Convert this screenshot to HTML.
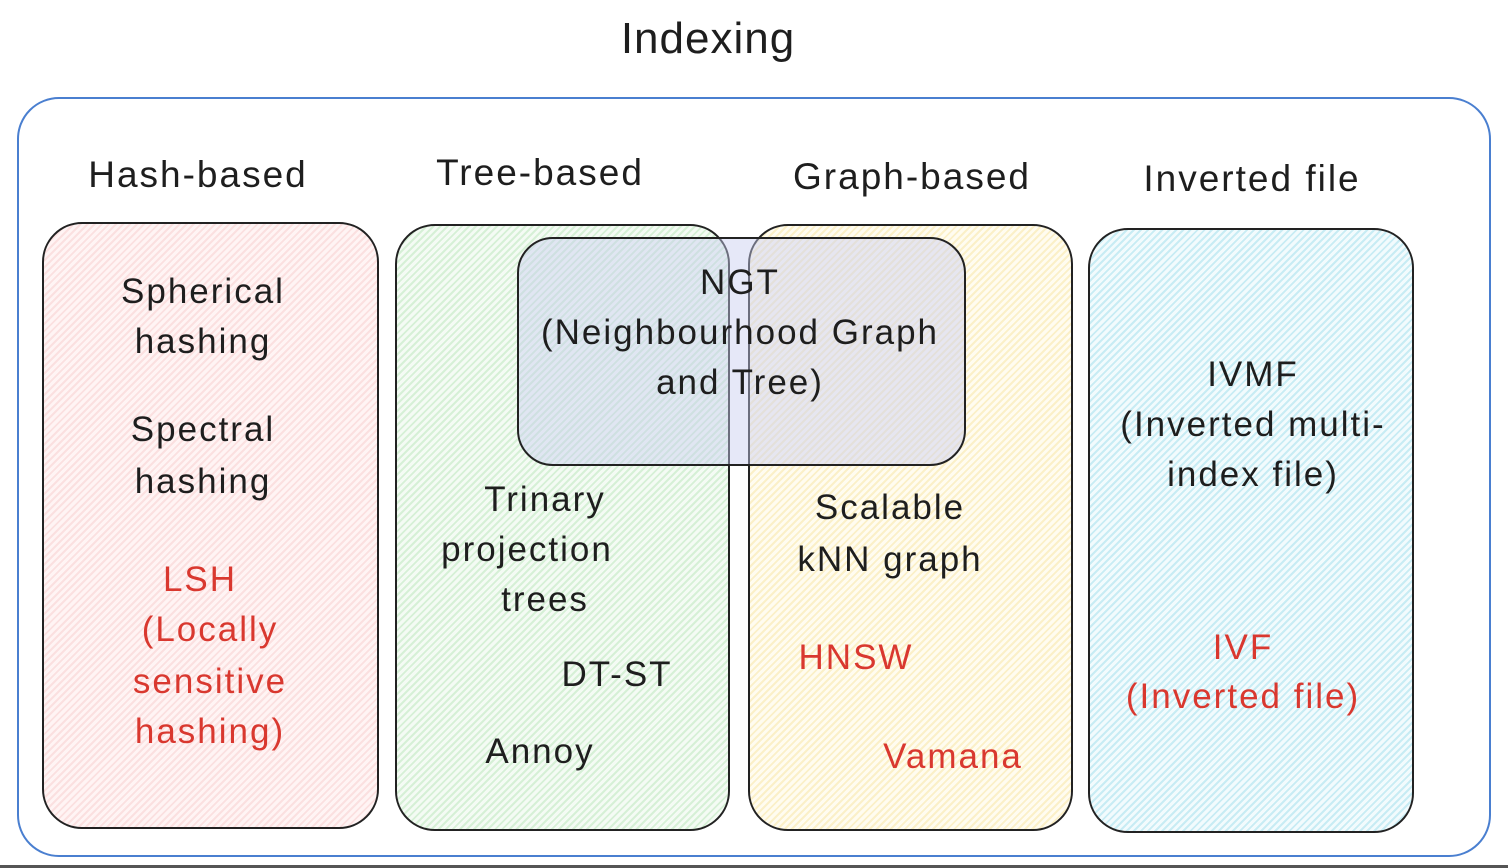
<!DOCTYPE html>
<html><head><meta charset="utf-8"><style>
body{margin:0;width:1508px;height:868px;background:#fff;position:relative;overflow:hidden;font-family:"Liberation Sans",sans-serif;}
.b{position:absolute;border:2px solid #222;border-radius:40px;box-sizing:border-box;}
.t{position:absolute;width:600px;margin-left:-300px;text-align:center;height:50px;line-height:50px;font-size:35px;color:#1e1e1e;white-space:nowrap;letter-spacing:2px;}
.r{color:#d9382f;}
.h{font-size:37px;}
</style></head><body>
<div class="t" style="left:708px;top:14px;font-size:44px;letter-spacing:1px;">Indexing</div>
<div class="b" style="left:17px;top:97px;width:1474px;height:760px;border-color:#4a7fd0;border-radius:42px;"></div>
<div style="position:absolute;left:0;top:865px;width:1508px;height:3px;background:#555"></div>

<div class="b" style="left:42px;top:222px;width:337px;height:607px;background:repeating-linear-gradient(135deg,#fbe0e0 0 2px,#fff4f4 2px 5px);"></div>
<div class="b" style="left:395px;top:224px;width:335px;height:607px;background:repeating-linear-gradient(135deg,#d6f0d6 0 2px,#f4fbf4 2px 5px);"></div>
<div class="b" style="left:748px;top:224px;width:325px;height:607px;background:repeating-linear-gradient(135deg,#fbf0c8 0 2px,#fffcf0 2px 5px);"></div>
<div class="b" style="left:1088px;top:228px;width:326px;height:605px;background:repeating-linear-gradient(135deg,#c8ecf4 0 2px,#f2fbfd 2px 5px);"></div>
<div class="b" style="left:517px;top:237px;width:449px;height:229px;background:rgba(200,205,240,0.45);border-radius:36px;"></div>

<div class="t h" style="left:198px;top:150px;">Hash-based</div>
<div class="t h" style="left:540px;top:148px;">Tree-based</div>
<div class="t h" style="left:912px;top:152px;">Graph-based</div>
<div class="t h" style="left:1252px;top:154px;">Inverted file</div>

<div class="t" style="left:203px;top:267px;">Spherical</div>
<div class="t" style="left:203px;top:317px;">hashing</div>
<div class="t" style="left:203px;top:405px;">Spectral</div>
<div class="t" style="left:203px;top:457px;">hashing</div>
<div class="t r" style="left:200px;top:555px;">LSH</div>
<div class="t r" style="left:210px;top:605px;">(Locally</div>
<div class="t r" style="left:210px;top:657px;">sensitive</div>
<div class="t r" style="left:210px;top:707px;">hashing)</div>

<div class="t" style="left:740px;top:258px;">NGT</div>
<div class="t" style="left:740px;top:308px;">(Neighbourhood Graph</div>
<div class="t" style="left:740px;top:358px;">and Tree)</div>

<div class="t" style="left:545px;top:475px;">Trinary</div>
<div class="t" style="left:527px;top:525px;">projection</div>
<div class="t" style="left:545px;top:575px;">trees</div>
<div class="t" style="left:617px;top:650px;">DT-ST</div>
<div class="t" style="left:540px;top:727px;">Annoy</div>

<div class="t" style="left:890px;top:483px;">Scalable</div>
<div class="t" style="left:890px;top:535px;">kNN graph</div>
<div class="t r" style="left:856px;top:633px;">HNSW</div>
<div class="t r" style="left:953px;top:732px;">Vamana</div>

<div class="t" style="left:1253px;top:350px;">IVMF</div>
<div class="t" style="left:1253px;top:400px;">(Inverted multi-</div>
<div class="t" style="left:1253px;top:450px;">index file)</div>
<div class="t r" style="left:1243px;top:623px;">IVF</div>
<div class="t r" style="left:1243px;top:672px;">(Inverted file)</div>
</body></html>
